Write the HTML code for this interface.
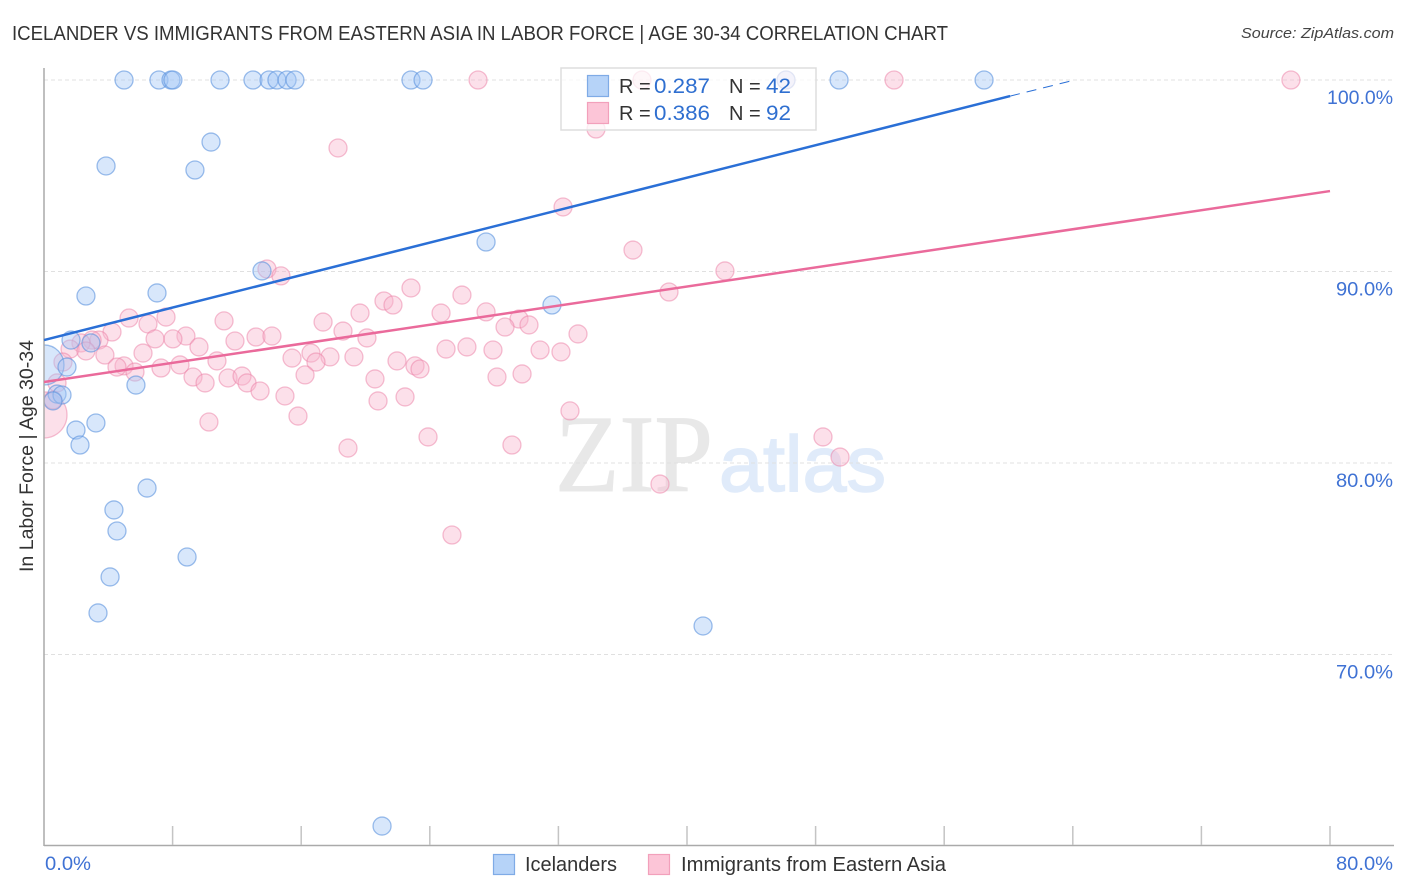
<!DOCTYPE html>
<html lang="en">
<head>
<meta charset="utf-8">
<title>Icelander vs Immigrants from Eastern Asia in Labor Force | Age 30-34 Correlation Chart</title>
<style>
html,body{margin:0;padding:0;background:#fff;}
svg{display:block;font-family:"Liberation Sans",sans-serif;}
</style>
</head>
<body>
<svg id="chart" xmlns="http://www.w3.org/2000/svg" width="1406" height="892" viewBox="0 0 1406 892">
  <text x="12" y="40" font-size="20" fill="#333" textLength="936" lengthAdjust="spacingAndGlyphs">ICELANDER VS IMMIGRANTS FROM EASTERN ASIA IN LABOR FORCE | AGE 30-34 CORRELATION CHART</text>
  <text x="1241" y="38" font-size="15" font-style="italic" fill="#444" textLength="153" lengthAdjust="spacingAndGlyphs">Source: ZipAtlas.com</text>

  <g>
    <text x="555" y="491" font-family="'Liberation Serif',serif" font-size="110" fill="#e8e8e8" stroke="#e8e8e8" stroke-width="1" textLength="158" lengthAdjust="spacingAndGlyphs">ZIP</text>
    <text x="719" y="491" font-size="79" fill="#e0ebfa" stroke="#e0ebfa" stroke-width="1.5" textLength="167" lengthAdjust="spacingAndGlyphs">atlas</text>
  </g>

  <g id="grid"></g>
  <g id="points"></g>
  <rect x="0" y="60" width="44" height="786" fill="#fff"></rect>
  <g id="axes"></g>
  <g id="trends"></g>
  <g id="ytick-labels"></g>
  <g id="xtick-labels"></g>

  <text transform="translate(33,456) rotate(-90)" font-size="19" fill="#333" text-anchor="middle" textLength="232" lengthAdjust="spacingAndGlyphs">In Labor Force | Age 30-34</text>

  <g id="stats-legend">
    <rect x="561" y="68" width="255" height="62" fill="#fff" fill-opacity="0.72" stroke="#ddd" stroke-width="1.5"></rect>
    <rect x="587.5" y="75.5" width="21" height="21" fill="#b6d3f8" stroke="#7fabe6" stroke-width="1.2"></rect>
    <rect x="587.5" y="102.5" width="21" height="21" fill="#fcc5d7" stroke="#f2a0bb" stroke-width="1.2"></rect>
    <text x="619" y="93" font-size="20" fill="#333">R =</text>
    <text x="654" y="93" font-size="21" fill="#2f6fd0" textLength="56" lengthAdjust="spacingAndGlyphs">0.287</text>
    <text x="729" y="93" font-size="20" fill="#333">N =</text>
    <text x="766" y="93" font-size="21" fill="#2f6fd0" textLength="25" lengthAdjust="spacingAndGlyphs">42</text>
    <text x="619" y="120" font-size="20" fill="#333">R =</text>
    <text x="654" y="120" font-size="21" fill="#2f6fd0" textLength="56" lengthAdjust="spacingAndGlyphs">0.386</text>
    <text x="729" y="120" font-size="20" fill="#333">N =</text>
    <text x="766" y="120" font-size="21" fill="#2f6fd0" textLength="25" lengthAdjust="spacingAndGlyphs">92</text>
  </g>

  <g>
    <rect x="493.5" y="854.5" width="21" height="20" fill="#b6d3f8" stroke="#7fabe6" stroke-width="1.2"></rect>
    <text x="525" y="871" font-size="20" fill="#333" textLength="92" lengthAdjust="spacingAndGlyphs">Icelanders</text>
    <rect x="648.5" y="854.5" width="21" height="20" fill="#fcc5d7" stroke="#f2a0bb" stroke-width="1.2"></rect>
    <text x="681" y="871" font-size="20" fill="#333" textLength="265" lengthAdjust="spacingAndGlyphs">Immigrants from Eastern Asia</text>
  </g>
</svg>

<script>
const yTickValues = [100, 90, 80, 70];
const yTickLabels = ["100.0%", "90.0%", "80.0%", "70.0%"];
const xTickValues = [0, 8, 16, 24, 32, 40, 48, 56, 64, 72, 80];
const xEdgeLabelValues = [0, 80];
const xEdgeLabels = ["0.0%", "80.0%"];

const icelanderX = [4.98,7.15,7.90,8.02,10.95,13.00,14.00,14.49,15.12,15.61,22.83,23.58,49.46,58.48,46.16,
  10.39,3.86,9.39,27.50,13.56,7.03,2.61,31.60,1.68,2.92,1.43,5.72,0.81,1.12,0.56,
  3.23,1.99,2.24,6.41,4.35,4.54,8.90,4.11,3.36,41.00,21.03];
const icelanderY = [100,100,100,100,100,100,100,100,100,100,100,100,100,100,100,
  96.76,95.51,95.30,91.54,90.03,88.88,88.72,88.25,86.42,86.27,85.01,84.07,83.60,83.55,83.24,
  82.09,81.72,80.94,78.69,77.55,76.45,75.09,74.05,72.17,71.49,61.04];
const icelanderLargeX = [0];
const icelanderLargeY = [85.12];

const immigrantX = [27.00,37.20,46.16,52.88,77.57,34.34,18.29,32.29,36.64,42.36,13.87,14.74,22.83,26.00,38.88,
  21.15,21.71,24.70,27.50,19.66,5.29,11.20,17.36,29.55,6.47,7.59,30.17,28.68,33.22,18.60,
  4.23,8.83,8.02,11.88,13.19,14.18,20.09,3.42,2.99,2.30,1.62,9.64,6.91,2.61,3.79,
  6.16,25.01,26.31,27.93,30.86,32.16,15.43,16.61,17.79,19.28,21.96,10.76,1.18,8.46,4.98,
  4.54,7.28,5.66,23.08,23.39,16.92,16.24,20.59,28.18,29.74,9.27,10.02,11.45,12.32,12.63,
  13.44,14.99,22.46,20.78,0.81,32.72,15.80,10.26,23.89,29.11,18.91,48.46,49.52,38.32,25.38,0.56];
const immigrantY = [100,100,100,100,100,97.44,96.45,93.37,91.12,90.03,90.13,89.77,89.14,88.77,88.93,
  88.46,88.25,87.83,87.89,87.83,87.57,87.42,87.36,87.52,87.26,87.62,87.21,87.10,86.74,86.89,
  86.84,86.63,86.48,86.37,86.58,86.63,86.53,86.42,86.42,86.27,85.95,86.06,86.48,85.85,85.64,
  85.74,85.95,86.06,85.90,85.90,85.80,85.48,85.74,85.54,85.54,85.33,85.33,85.27,85.12,85.07,
  85.01,84.96,84.75,85.07,84.91,85.27,84.60,84.39,84.49,84.65,84.49,84.18,84.44,84.54,84.18,
  83.76,83.50,83.45,83.24,84.18,82.72,82.45,82.14,81.36,80.94,80.78,81.36,80.31,78.90,76.24,83.29];
const immigrantLargeX = [0];
const immigrantLargeY = [82.51];

const icelanderTrendX = [0, 60.1];
const icelanderTrendY = [86.42, 99.16];
const icelanderTrendExtX = [60.1, 64.13];
const icelanderTrendExtY = [99.16, 100];
const immigrantTrendX = [0, 80];
const immigrantTrendY = [84.23, 94.20];

const SVGNS = "http://www.w3.org/2000/svg";
const PLOT = {left: 44, right: 1330, end: 1394, yTop: 80, yBottom: 846, top: 68};
function xScale(v) { return PLOT.left + (v / 80) * (PLOT.right - PLOT.left); }
function yScale(v) { return PLOT.yTop + ((100 - v) / 40) * (PLOT.yBottom - PLOT.yTop); }
function make(tag, attrs, parent) {
  const el = document.createElementNS(SVGNS, tag);
  for (const k in attrs) el.setAttribute(k, attrs[k]);
  parent.appendChild(el);
  return el;
}
function labelWidth(text) {
  if (text.length === 6) return 66;
  return text.length === 5 ? 57 : 46;
}

const gridG = document.getElementById("grid");
const axesG = document.getElementById("axes");
const ptsG = document.getElementById("points");
const trendG = document.getElementById("trends");
const yLabG = document.getElementById("ytick-labels");
const xLabG = document.getElementById("xtick-labels");

yTickValues.forEach(function (v, i) {
  const line = make("line", {x1: PLOT.left, x2: PLOT.end, y1: yScale(v), y2: yScale(v), stroke: "#e0e0e0", "stroke-width": 1, "stroke-dasharray": "4 3"}, gridG);
  
  
  const w = labelWidth(yTickLabels[i]);
  const label = make("text", {x: 1393 - w, y: yScale(v) + 24, "font-size": 19.5, fill: "#3f72d4", textLength: w, lengthAdjust: "spacingAndGlyphs"}, yLabG);
  label.textContent = yTickLabels[i];
  
  
});

const yAxis = make("line", {x1: PLOT.left, x2: PLOT.left, y1: PLOT.top, y2: PLOT.yBottom, stroke: "#aaa", "stroke-width": 1.5}, axesG);


const xAxis = make("line", {x1: PLOT.left, x2: PLOT.end, y1: 845.5, y2: 845.5, stroke: "#aaa", "stroke-width": 1.5}, axesG);



xTickValues.slice(1).forEach(function (v) {
  const tick = make("line", {x1: xScale(v), x2: xScale(v), y1: 826, y2: 845, stroke: "#c4c4c4", "stroke-width": 1.5}, axesG);
  
  
});

xEdgeLabelValues.forEach(function (v, i) {
  const w = labelWidth(xEdgeLabels[i]);
  const left = i === 0 ? xScale(v) + 1 : 1393 - w;
  const label = make("text", {x: left, y: 870, "font-size": 19.5, fill: "#3f72d4", textLength: w, lengthAdjust: "spacingAndGlyphs"}, xLabG);
  label.textContent = xEdgeLabels[i];
  
  
});

function drawSeries(xs, ys, r, fill, fillOpacity, stroke, strokeOpacity) {
  xs.forEach(function (x, i) {
    const c = make("circle", {cx: xScale(x), cy: yScale(ys[i]), r: r, fill: fill, "fill-opacity": fillOpacity, stroke: stroke, "stroke-opacity": strokeOpacity, "stroke-width": 1.3}, ptsG);
    
    
  });
}
drawSeries(immigrantLargeX, immigrantLargeY, 23, "#f9b6cc", 0.42, "#ec7fa5", 0.5);
drawSeries(immigrantX, immigrantY, 9, "#f9b6cc", 0.42, "#ec7fa5", 0.5);
drawSeries(icelanderLargeX, icelanderLargeY, 20, "#a3c6f5", 0.42, "#5c93de", 0.6);
drawSeries(icelanderX, icelanderY, 9, "#a3c6f5", 0.42, "#5c93de", 0.6);

function drawTrend(xs, ys, color, width, dash, name) {
  const line = make("line", {x1: xScale(xs[0]), y1: yScale(ys[0]), x2: xScale(xs[1]), y2: yScale(ys[1]), stroke: color, "stroke-width": width}, trendG);
  if (dash) line.setAttribute("stroke-dasharray", dash);
  
  
}
drawTrend(immigrantTrendX, immigrantTrendY, "#ea6a9b", 2.5, null, "immigrants-trend-line");
drawTrend(icelanderTrendX, icelanderTrendY, "#2a6fd6", 2.5, null, "icelanders-trend-line");
drawTrend(icelanderTrendExtX, icelanderTrendExtY, "#2a6fd6", 1, "10 7", "icelanders-trend-extension");
</script>
</body>
</html>
